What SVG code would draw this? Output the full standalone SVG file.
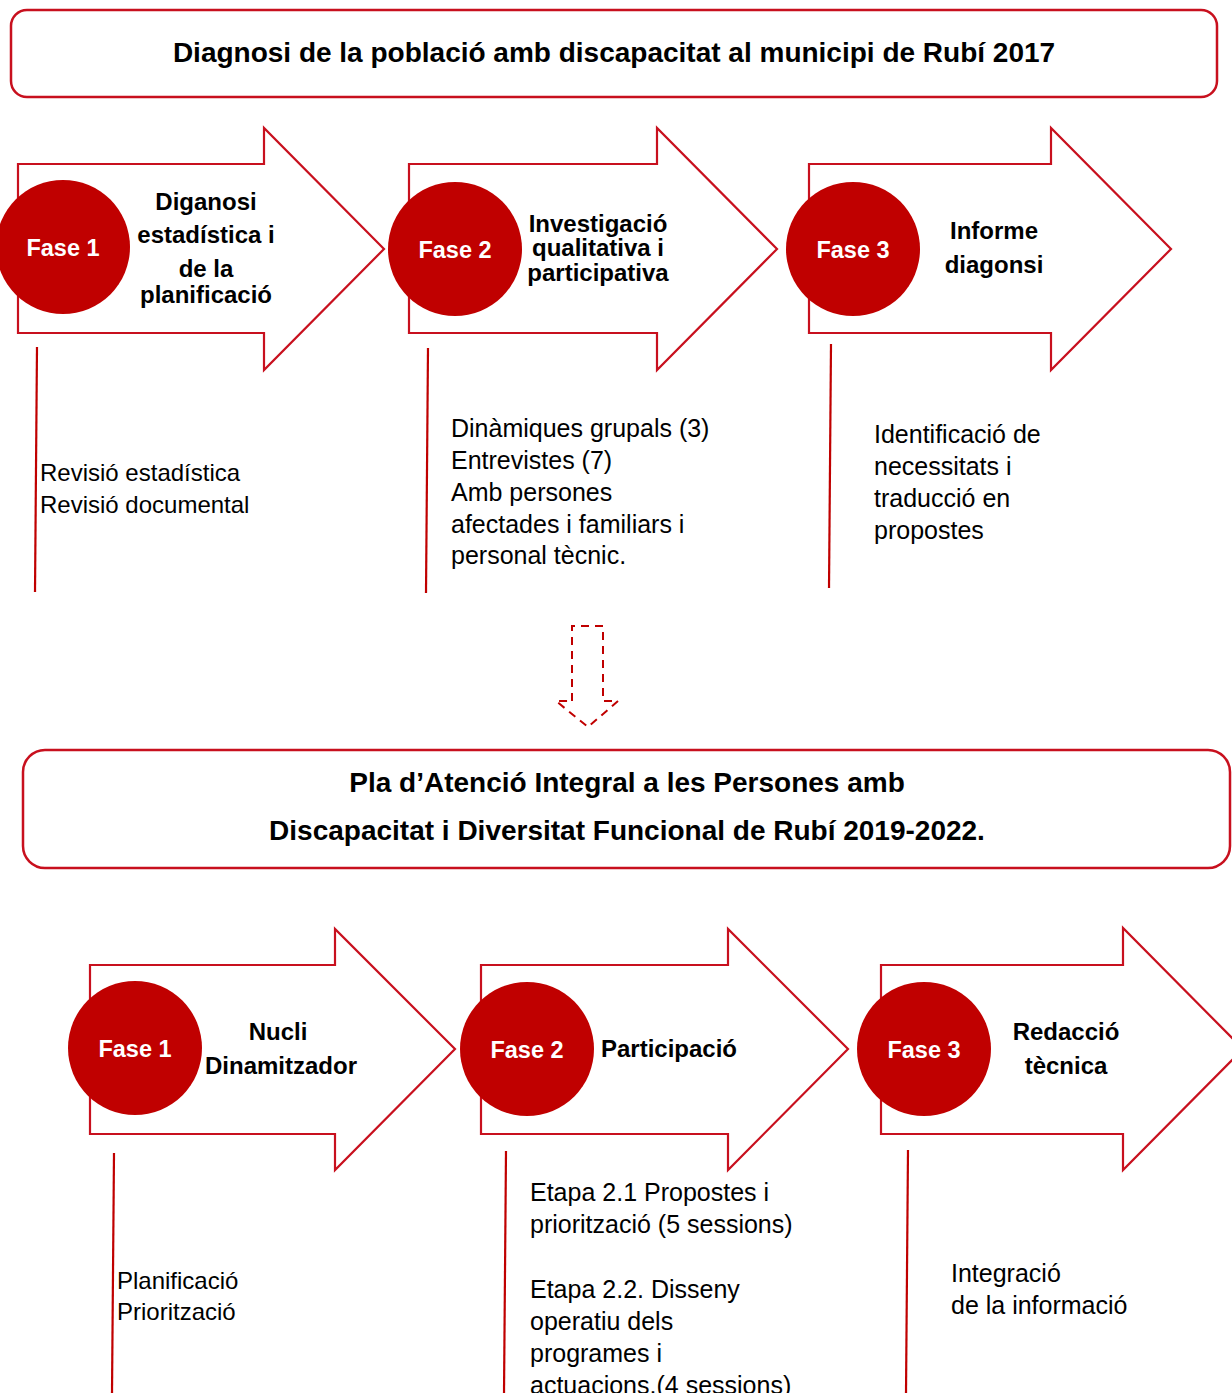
<svg xmlns="http://www.w3.org/2000/svg" width="1232" height="1393" viewBox="0 0 1232 1393">
<style>
.box{fill:#fff;stroke:#c8101e;stroke-width:2.5}
.arr{fill:#fff;stroke:#c8101e;stroke-width:2.2;stroke-linejoin:miter}
.circ{fill:#c00000}
.vl{stroke:#c00000;stroke-width:2.2;fill:none}
.title{font-family:"Liberation Sans",Arial,sans-serif;font-weight:bold;font-size:28px;fill:#000;text-anchor:middle}
.lbl{font-family:"Liberation Sans",Arial,sans-serif;font-weight:bold;font-size:24px;fill:#000;text-anchor:middle}
.fase{font-family:"Liberation Sans",Arial,sans-serif;font-weight:bold;font-size:23.5px;fill:#fff;text-anchor:middle}
.txt{font-family:"Liberation Sans",Arial,sans-serif;font-size:25px;fill:#000}
.txs{font-family:"Liberation Sans",Arial,sans-serif;font-size:24px;fill:#000}
</style>
<rect width="1232" height="1393" fill="#fff"/>

<g id="title1">
<rect class="box" x="11" y="10" width="1206" height="87" rx="16"/>
<text class="title" x="614" y="62">Diagnosi de la població amb discapacitat al municipi de Rubí 2017</text>
</g>

<g id="top-fase1">
<path class="arr" d="M18,164 H264 V128 L384,249 L264,370 V333 H18 Z"/>
<circle class="circ" cx="63" cy="247" r="67"/>
<text class="fase" x="63" y="256">Fase 1</text>
<text class="lbl" x="206" y="210">Diganosi</text>
<text class="lbl" x="206" y="243">estadística i</text>
<text class="lbl" x="206" y="277">de la</text>
<text class="lbl" x="206" y="303">planificació</text>
</g>
<g id="top-fase2">
<path class="arr" d="M409,164 H657 V128 L777,249 L657,370 V333 H409 Z"/>
<circle class="circ" cx="455" cy="249" r="67"/>
<text class="fase" x="455" y="258">Fase 2</text>
<text class="lbl" x="598" y="232">Investigació</text>
<text class="lbl" x="598" y="256">qualitativa i</text>
<text class="lbl" x="598" y="281">participativa</text>
</g>
<g id="top-fase3">
<path class="arr" d="M809,164 H1051 V128 L1171,249 L1051,370 V333 H809 Z"/>
<circle class="circ" cx="853" cy="249" r="67"/>
<text class="fase" x="853" y="258">Fase 3</text>
<text class="lbl" x="994" y="239">Informe</text>
<text class="lbl" x="994" y="273">diagonsi</text>
</g>

<g id="top-desc1">
<text class="txs" x="40" y="481">Revisió estadística</text>
<text class="txs" x="40" y="513">Revisió documental</text>
</g>
<g id="top-desc2">
<text class="txt" x="451" y="437">Dinàmiques grupals (3)</text>
<text class="txt" x="451" y="469">Entrevistes (7)</text>
<text class="txt" x="451" y="501">Amb persones</text>
<text class="txt" x="451" y="533">afectades i familiars i</text>
<text class="txt" x="451" y="564">personal tècnic.</text>
</g>
<g id="top-desc3">
<text class="txt" x="874" y="443">Identificació de</text>
<text class="txt" x="874" y="475">necessitats i</text>
<text class="txt" x="874" y="507">traducció en</text>
<text class="txt" x="874" y="539">propostes</text>
</g>

<g id="title2">
<rect class="box" x="23" y="750" width="1207" height="118" rx="22"/>
<text class="title" x="627" y="792">Pla d’Atenció Integral a les Persones amb</text>
<text class="title" x="627" y="840">Discapacitat i Diversitat Funcional de Rubí 2019-2022.</text>
</g>

<g id="bot-fase1">
<path class="arr" d="M90,965 H335 V929 L455,1049 L335,1170 V1134 H90 Z"/>
<circle class="circ" cx="135" cy="1048" r="67"/>
<text class="fase" x="135" y="1057">Fase 1</text>
<text class="lbl" x="278" y="1040">Nucli</text>
<text class="lbl" x="281" y="1074">Dinamitzador</text>
</g>
<g id="bot-fase2">
<path class="arr" d="M481,965 H728 V929 L848,1049 L728,1170 V1134 H481 Z"/>
<circle class="circ" cx="527" cy="1049" r="67"/>
<text class="fase" x="527" y="1058">Fase 2</text>
<text class="lbl" x="669" y="1057">Participació</text>
</g>
<g id="bot-fase3">
<path class="arr" d="M881,965 H1123 V928 L1243,1049 L1123,1170 V1134 H881 Z"/>
<circle class="circ" cx="924" cy="1049" r="67"/>
<text class="fase" x="924" y="1058">Fase 3</text>
<text class="lbl" x="1066" y="1040">Redacció</text>
<text class="lbl" x="1066" y="1074">tècnica</text>
</g>

<g id="bot-desc1">
<text class="txs" x="117" y="1289">Planificació</text>
<text class="txs" x="117" y="1320">Priorització</text>
</g>
<g id="bot-desc2">
<text class="txt" x="530" y="1201">Etapa 2.1 Propostes i</text>
<text class="txt" x="530" y="1233">priorització (5 sessions)</text>
<text class="txt" x="530" y="1298">Etapa 2.2. Disseny</text>
<text class="txt" x="530" y="1330">operatiu dels</text>
<text class="txt" x="530" y="1362">programes i</text>
<text class="txt" x="530" y="1394">actuacions.(4 sessions)</text>
</g>
<g id="bot-desc3">
<text class="txt" x="951" y="1282">Integració</text>
<text class="txt" x="951" y="1314">de la informació</text>
</g>

<g id="connectors">
<line class="vl" x1="37" y1="347" x2="35" y2="592"/>
<line class="vl" x1="428" y1="348" x2="426" y2="593"/>
<line class="vl" x1="831" y1="344" x2="829" y2="588"/>
<line class="vl" x1="114" y1="1153" x2="112" y2="1393"/>
<line class="vl" x1="506" y1="1151" x2="504" y2="1393"/>
<line class="vl" x1="908" y1="1150" x2="906" y2="1393"/>
<path d="M572,701 V626 H603 V701 H618 L588,727 L556,701 Z" fill="none" stroke="#c00000" stroke-width="2" stroke-dasharray="8,6"/>
</g>
</svg>
